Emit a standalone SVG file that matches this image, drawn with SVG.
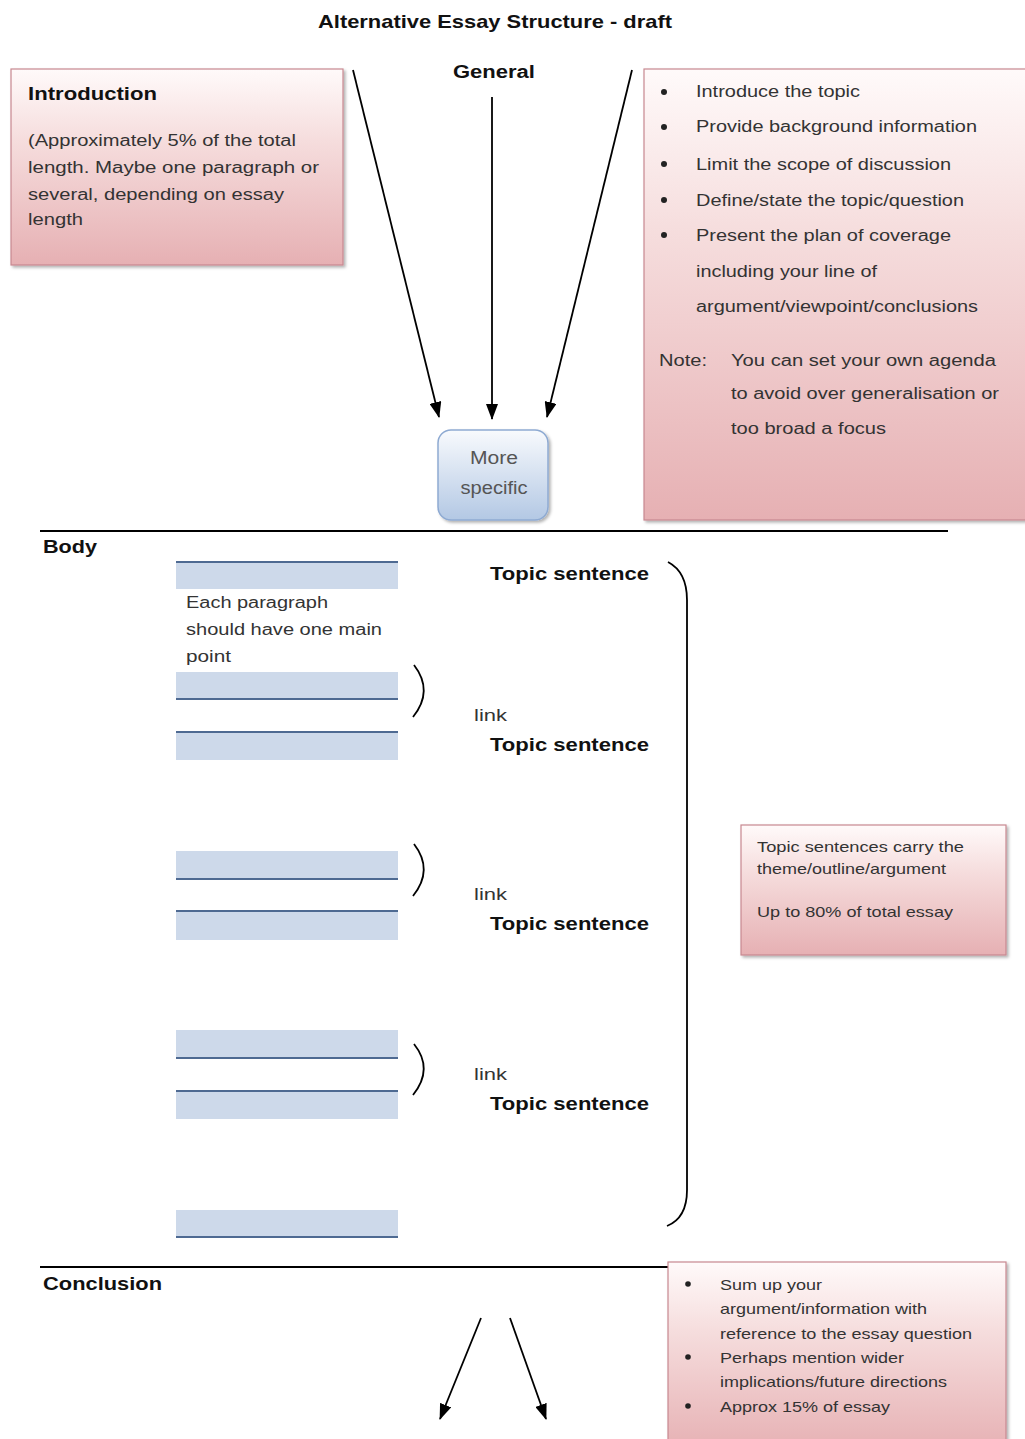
<svg xmlns="http://www.w3.org/2000/svg" width="1025" height="1439" viewBox="0 0 1025 1439">
<defs>
<linearGradient id="pink" x1="0" y1="0" x2="0" y2="1">
<stop offset="0" stop-color="#fffafa"/>
<stop offset="0.35" stop-color="#f6dede"/>
<stop offset="1" stop-color="#e6b0b3"/>
</linearGradient>
<linearGradient id="blue" x1="0" y1="0" x2="0" y2="1">
<stop offset="0" stop-color="#f8fafd"/>
<stop offset="1" stop-color="#b3c8e4"/>
</linearGradient>
<filter id="sh" x="-5%" y="-5%" width="115%" height="115%">
<feDropShadow dx="2" dy="2" stdDeviation="1.5" flood-color="#000" flood-opacity="0.3"/>
</filter>
<marker id="ah2" viewBox="0 0 16 12" refX="15" refY="6" markerWidth="16" markerHeight="12" markerUnits="userSpaceOnUse" orient="auto">
<path d="M0,0 L16,6 L0,12 z" fill="#000"/>
</marker>
</defs>
<style>
text{font-family:"Liberation Sans",Arial,sans-serif;}
.b{font-weight:bold;fill:#111;}
.t{fill:#333;font-size:16px;}
.s{fill:#333;font-size:15px;}
.pk{fill:url(#pink);stroke:#c78890;stroke-width:1.2;filter:url(#sh);}
.bar{fill:#cdd9ea;}
.bl{stroke:#4e6a92;stroke-width:2;}
.ln{stroke:#000;stroke-width:2;fill:none;}
.cn{stroke:#000;stroke-width:1.8;fill:none;}
</style>

<g id="title"><text class="b" x="318" y="28" font-size="19" textLength="354" lengthAdjust="spacingAndGlyphs">Alternative Essay Structure - draft</text></g>
<g id="general"><text class="b" x="453" y="78" font-size="18" textLength="82" lengthAdjust="spacingAndGlyphs">General</text></g>

<g id="introduction">
<rect class="pk" x="11" y="69" width="332" height="196"/>
<text class="b" x="28" y="100" font-size="18" textLength="129" lengthAdjust="spacingAndGlyphs">Introduction</text>
<text class="t" x="28" y="146" textLength="268" lengthAdjust="spacingAndGlyphs">(Approximately 5% of the total</text>
<text class="t" x="28" y="173" textLength="291" lengthAdjust="spacingAndGlyphs">length.  Maybe one paragraph or</text>
<text class="t" x="28" y="200" textLength="256" lengthAdjust="spacingAndGlyphs">several, depending on essay</text>
<text class="t" x="28" y="225" textLength="55" lengthAdjust="spacingAndGlyphs">length</text>
</g>

<g id="intro-points">
<rect class="pk" x="644" y="69" width="385" height="451"/>
<g fill="#222"><circle cx="664" cy="92" r="3"/><circle cx="664" cy="127" r="3"/><circle cx="664" cy="164" r="3"/><circle cx="664" cy="200" r="3"/><circle cx="664" cy="235" r="3"/></g>
<text class="t" x="696" y="97" textLength="164" lengthAdjust="spacingAndGlyphs">Introduce the topic</text>
<text class="t" x="696" y="132" textLength="281" lengthAdjust="spacingAndGlyphs">Provide background information</text>
<text class="t" x="696" y="170" textLength="255" lengthAdjust="spacingAndGlyphs">Limit the scope of discussion</text>
<text class="t" x="696" y="206" textLength="268" lengthAdjust="spacingAndGlyphs">Define/state the topic/question</text>
<text class="t" x="696" y="241" textLength="255" lengthAdjust="spacingAndGlyphs">Present the plan of coverage</text>
<text class="t" x="696" y="277" textLength="181" lengthAdjust="spacingAndGlyphs">including your line of</text>
<text class="t" x="696" y="312" textLength="282" lengthAdjust="spacingAndGlyphs">argument/viewpoint/conclusions</text>
<text class="t" x="659" y="366" textLength="48" lengthAdjust="spacingAndGlyphs">Note:</text>
<text class="t" x="731" y="366" textLength="265" lengthAdjust="spacingAndGlyphs">You can set your own agenda</text>
<text class="t" x="731" y="399" textLength="268" lengthAdjust="spacingAndGlyphs">to avoid over generalisation or</text>
<text class="t" x="731" y="434" textLength="155" lengthAdjust="spacingAndGlyphs">too broad a focus</text>
</g>

<g id="more-specific">
<rect x="438" y="430" width="110" height="90" rx="13" fill="url(#blue)" stroke="#8eaad2" stroke-width="1.5" filter="url(#sh)"/>
<text x="494" y="464" text-anchor="middle" font-size="18" fill="#555" textLength="48" lengthAdjust="spacingAndGlyphs">More</text>
<text x="494" y="494" text-anchor="middle" font-size="18" fill="#555" textLength="67" lengthAdjust="spacingAndGlyphs">specific</text>
</g>

<g id="body-section">
<line class="ln" x1="40" y1="531" x2="948" y2="531"/>
<text class="b" x="43" y="553" font-size="18" textLength="54" lengthAdjust="spacingAndGlyphs">Body</text>
<g id="bars">
<rect class="bar" x="176" y="561" width="222" height="28"/><line class="bl" x1="176" y1="562" x2="398" y2="562"/>
<rect class="bar" x="176" y="672" width="222" height="28"/><line class="bl" x1="176" y1="699" x2="398" y2="699"/>
<rect class="bar" x="176" y="731" width="222" height="29"/><line class="bl" x1="176" y1="732" x2="398" y2="732"/>
<rect class="bar" x="176" y="851" width="222" height="29"/><line class="bl" x1="176" y1="879" x2="398" y2="879"/>
<rect class="bar" x="176" y="910" width="222" height="30"/><line class="bl" x1="176" y1="911" x2="398" y2="911"/>
<rect class="bar" x="176" y="1030" width="222" height="29"/><line class="bl" x1="176" y1="1058" x2="398" y2="1058"/>
<rect class="bar" x="176" y="1090" width="222" height="29"/><line class="bl" x1="176" y1="1091" x2="398" y2="1091"/>
<rect class="bar" x="176" y="1210" width="222" height="28"/><line class="bl" x1="176" y1="1237" x2="398" y2="1237"/>
</g>
<text class="t" x="186" y="608" textLength="142" lengthAdjust="spacingAndGlyphs">Each paragraph</text>
<text class="t" x="186" y="635" textLength="196" lengthAdjust="spacingAndGlyphs">should have one main</text>
<text class="t" x="186" y="662" textLength="45" lengthAdjust="spacingAndGlyphs">point</text>
<g id="links">
<path class="cn" d="M414,665 Q434,691 413,717"/>
<path class="cn" d="M414,844 Q434,870 413,896"/>
<path class="cn" d="M414,1044 Q434,1069 413,1095"/>
<text class="t" x="474" y="721" textLength="33" lengthAdjust="spacingAndGlyphs">link</text>
<text class="t" x="474" y="900" textLength="33" lengthAdjust="spacingAndGlyphs">link</text>
<text class="t" x="474" y="1080" textLength="33" lengthAdjust="spacingAndGlyphs">link</text>
</g>
<text class="b" x="490" y="580" font-size="18" textLength="159" lengthAdjust="spacingAndGlyphs">Topic sentence</text>
<text class="b" x="490" y="751" font-size="18" textLength="159" lengthAdjust="spacingAndGlyphs">Topic sentence</text>
<text class="b" x="490" y="930" font-size="18" textLength="159" lengthAdjust="spacingAndGlyphs">Topic sentence</text>
<text class="b" x="490" y="1110" font-size="18" textLength="159" lengthAdjust="spacingAndGlyphs">Topic sentence</text>
<path class="cn" d="M668,562 Q687,572 687,600 L687,1190 Q687,1218 667,1226"/>
</g>

<g id="topic-note">
<rect class="pk" x="741" y="825" width="265" height="130"/>
<text class="s" x="757" y="852" textLength="207" lengthAdjust="spacingAndGlyphs">Topic sentences carry the</text>
<text class="s" x="757" y="874" textLength="189" lengthAdjust="spacingAndGlyphs">theme/outline/argument</text>
<text class="s" x="757" y="917" textLength="196" lengthAdjust="spacingAndGlyphs">Up to 80% of total essay</text>
</g>

<g id="conclusion-section">
<line class="ln" x1="40" y1="1267" x2="670" y2="1267"/>
<text class="b" x="43" y="1290" font-size="18" textLength="119" lengthAdjust="spacingAndGlyphs">Conclusion</text>
</g>

<g id="conclusion-note">
<rect class="pk" x="668" y="1262" width="338" height="190"/>
<g fill="#222"><circle cx="688" cy="1284" r="2.8"/><circle cx="688" cy="1357" r="2.8"/><circle cx="688" cy="1406" r="2.8"/></g>
<text class="s" x="720" y="1290" textLength="102" lengthAdjust="spacingAndGlyphs">Sum up your</text>
<text class="s" x="720" y="1314" textLength="207" lengthAdjust="spacingAndGlyphs">argument/information with</text>
<text class="s" x="720" y="1339" textLength="252" lengthAdjust="spacingAndGlyphs">reference to the essay question</text>
<text class="s" x="720" y="1363" textLength="184" lengthAdjust="spacingAndGlyphs">Perhaps mention wider</text>
<text class="s" x="720" y="1387" textLength="227" lengthAdjust="spacingAndGlyphs">implications/future directions</text>
<text class="s" x="720" y="1412" textLength="170" lengthAdjust="spacingAndGlyphs">Approx 15% of essay</text>
</g>

<g id="connectors">
<line class="cn" x1="353" y1="70" x2="439" y2="417" marker-end="url(#ah2)"/>
<line class="cn" x1="492" y1="97" x2="492" y2="419" marker-end="url(#ah2)"/>
<line class="cn" x1="632" y1="70" x2="547" y2="417" marker-end="url(#ah2)"/>
<line class="cn" x1="481" y1="1318" x2="440" y2="1419" marker-end="url(#ah2)"/>
<line class="cn" x1="510" y1="1318" x2="546" y2="1419" marker-end="url(#ah2)"/>
</g>
</svg>
